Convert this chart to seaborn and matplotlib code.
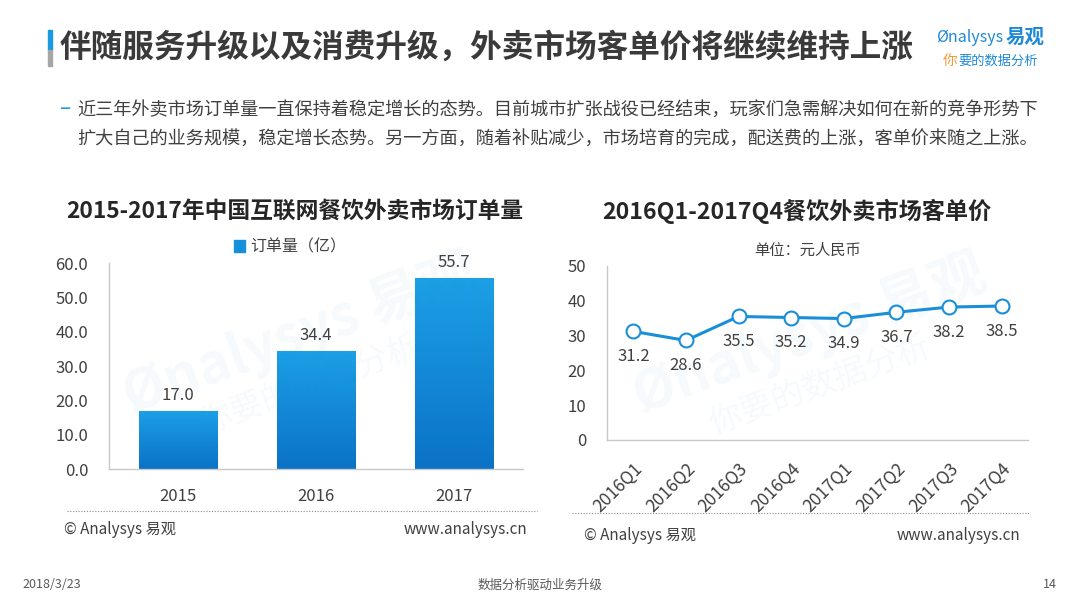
import numpy as np
import matplotlib
matplotlib.use('Agg')
import matplotlib.pyplot as plt
from matplotlib.patches import Rectangle, Patch
from matplotlib.colors import LinearSegmentedColormap
import seaborn as sns

# data
years = ['2015', '2016', '2017']
orders = [17.0, 34.4, 55.7]
quarters = ['2016Q1', '2016Q2', '2016Q3', '2016Q4', '2017Q1', '2017Q2', '2017Q3', '2017Q4']
prices = [31.2, 28.6, 35.5, 35.2, 34.9, 36.7, 38.2, 38.5]

main_title = '伴随服务升级以及消费升级，外卖市场客单价将继续维持上涨'
body_lines = ['近三年外卖市场订单量一直保持着稳定增长的态势。目前城市扩张战役已经结束，玩家们急需解决如何在新的竞争形势下',
              '扩大自己的业务规模，稳定增长态势。另一方面，随着补贴减少，市场培育的完成，配送费的上涨，客单价来随之上涨。']
left_title = '2015-2017年中国互联网餐饮外卖市场订单量'
right_title = '2016Q1-2017Q4餐饮外卖市场客单价'

sns.set_theme(style='white')
plt.rcParams['font.family'] = ['Noto Sans CJK SC', 'DejaVu Sans']

TXT = '#404040'
BLUE = '#1a8fd8'
AXC = '#c8c8c8'

fig = plt.figure(figsize=(10.8, 6.08), dpi=100)
W, H = 1080, 608

def fx(px):
    return px / W

def fy(py):
    return 1 - py / H

# header
fig.patches.append(Rectangle((fx(48), fy(50)), fx(4), 20 / H, transform=fig.transFigure, color='#1a9ae0'))
fig.patches.append(Rectangle((fx(48), fy(66)), fx(4), 16 / H, transform=fig.transFigure, color='#a6a6a6'))
fig.text(fx(60), fy(48), main_title, fontsize=22.8, fontweight='bold', color='#3a3a3a', va='center', ha='left')

# logo
fig.text(fx(936), fy(38), 'Ønalysys', fontsize=11.5, color='#1e8ad6', va='center', ha='left', style='italic')
fig.text(fx(1006), fy(37), '易观', fontsize=14, color='#1e8ad6', va='center', ha='left', fontweight='bold')
fig.text(fx(943), fy(61), '你', fontsize=10.5, color='#f29b38', va='center', ha='left')
fig.text(fx(958), fy(61), '要的数据分析', fontsize=9.5, color='#1e8ad6', va='center', ha='left')

# body text
fig.text(fx(60), fy(108), '–', fontsize=15, color='#1a9ae0', va='center', ha='left')
fig.text(fx(77), fy(111), body_lines[0], fontsize=13.1, color=TXT, va='center', ha='left')
fig.text(fx(77), fy(139), body_lines[1], fontsize=13.1, color=TXT, va='center', ha='left')

# chart titles
fig.text(fx(295), fy(211), left_title, fontsize=16.4, fontweight='bold', color='#262626', ha='center', va='center')
fig.text(fx(797), fy(211), right_title, fontsize=16.7, fontweight='bold', color='#262626', ha='center', va='center')

# watermark
for cx, cy in ((300, 335), (810, 335)):
    fig.text(fx(cx), fy(cy), 'Ønalysys 易观', fontsize=40, color='#1a8fd8', alpha=0.045,
             rotation=20, ha='center', va='center', fontweight='bold')
    fig.text(fx(cx + 10), fy(cy + 50), '你要的数据分析', fontsize=24, color='#1a8fd8', alpha=0.045,
             rotation=20, ha='center', va='center')

# ---- left chart: bars
ax1 = fig.add_axes([fx(109), fy(469), fx(414), 206 / H])
sns.barplot(x=years, y=orders, ax=ax1, color='#1590dc', width=0.57, saturation=1)
cmap = LinearSegmentedColormap.from_list('bar', ['#0b72c6', '#1ca0e6'])
grad = np.linspace(0, 1, 256).reshape(-1, 1)
for p in ax1.patches:
    x0, y0 = p.get_x(), p.get_y()
    w, h = p.get_width(), p.get_height()
    im = ax1.imshow(grad, cmap=cmap, origin='lower', aspect='auto',
                    extent=[x0, x0 + w, y0, y0 + h], zorder=2)
    im.set_clip_path(p)
ax1.set_xlim(-0.5, 2.5)
ax1.set_ylim(0, 60)
ax1.set_aspect('auto')
for i, v in enumerate(orders):
    ax1.annotate(f'{v:.1f}', (i, v), xytext=(0, 5), textcoords='offset points',
                 ha='center', va='bottom', fontsize=12, color=TXT)
ax1.set_yticks(np.arange(0, 61, 10))
ax1.set_yticklabels([f'{t:.1f}' for t in np.arange(0, 61, 10)])
ax1.set_xlabel('')
ax1.set_ylabel('')
ax1.legend(handles=[Patch(color='#1590dc')], labels=['订单量（亿）'], loc='center',
           bbox_to_anchor=((290 - 109) / 414, 1 + 16 / 206), frameon=False,
           fontsize=11.5, handlelength=0.7, handleheight=0.7, handletextpad=0.3,
           labelcolor=TXT)

# ---- right chart: line
ax2 = fig.add_axes([fx(607), fy(440), fx(421), 174 / H])
xs = np.arange(len(quarters))
sns.lineplot(x=xs, y=prices, ax=ax2, color=BLUE, lw=2.2, marker='o', markersize=10,
             markerfacecolor='white', markeredgecolor=BLUE, markeredgewidth=1.5)
ax2.set_xlim(-0.5, 7.5)
ax2.set_ylim(0, 50)
ax2.set_yticks(np.arange(0, 51, 10))
ax2.set_xticks(xs)
ax2.set_xticklabels(quarters, rotation=45, ha='right', rotation_mode='anchor')
for i, v in enumerate(prices):
    ax2.annotate(f'{v}', (i, v), xytext=(0, -12), textcoords='offset points',
                 ha='center', va='top', fontsize=12, color=TXT)
fig.text(fx(808), fy(250), '单位：元人民币', fontsize=11, color=TXT, ha='center', va='center')

for ax in (ax1, ax2):
    sns.despine(ax=ax)
    ax.spines['left'].set_color(AXC)
    ax.spines['bottom'].set_color(AXC)
    ax.spines['left'].set_linewidth(1)
    ax.spines['bottom'].set_linewidth(1)
    ax.tick_params(axis='y', colors=AXC, labelcolor=TXT, labelsize=12, length=3, width=1,
                   direction='out', pad=12)
    ax.patch.set_alpha(0)
    ax.grid(False)
ax1.tick_params(axis='x', labelcolor=TXT, labelsize=12, length=0, pad=14)
ax2.tick_params(axis='x', labelcolor=TXT, labelsize=12.5, length=0, pad=14)

# footer lines and sources
fig.add_artist(plt.Line2D([fx(67), fx(537)], [fy(511), fy(511)], transform=fig.transFigure,
                          color='#8c8c8c', lw=0.8, ls=(0, (1, 1.5))))
fig.add_artist(plt.Line2D([fx(572), fx(1030)], [fy(513), fy(513)], transform=fig.transFigure,
                          color='#8c8c8c', lw=0.8, ls=(0, (1, 1.5))))
fig.text(fx(64), fy(530), '© Analysys 易观', fontsize=11, color=TXT, ha='left', va='center')
fig.text(fx(527), fy(530), 'www.analysys.cn', fontsize=11, color=TXT, ha='right', va='center')
fig.text(fx(584), fy(535), '© Analysys 易观', fontsize=11, color=TXT, ha='left', va='center')
fig.text(fx(1020), fy(535), 'www.analysys.cn', fontsize=11, color=TXT, ha='right', va='center')

fig.text(fx(22), fy(585), '2018/3/23', fontsize=9, color='#595959', ha='left', va='center')
fig.text(fx(540), fy(585), '数据分析驱动业务升级', fontsize=9, color='#595959', ha='center', va='center')
fig.text(fx(1057), fy(585), '14', fontsize=9, color='#595959', ha='right', va='center')

fig.savefig('out.png', dpi=100, facecolor='white')
